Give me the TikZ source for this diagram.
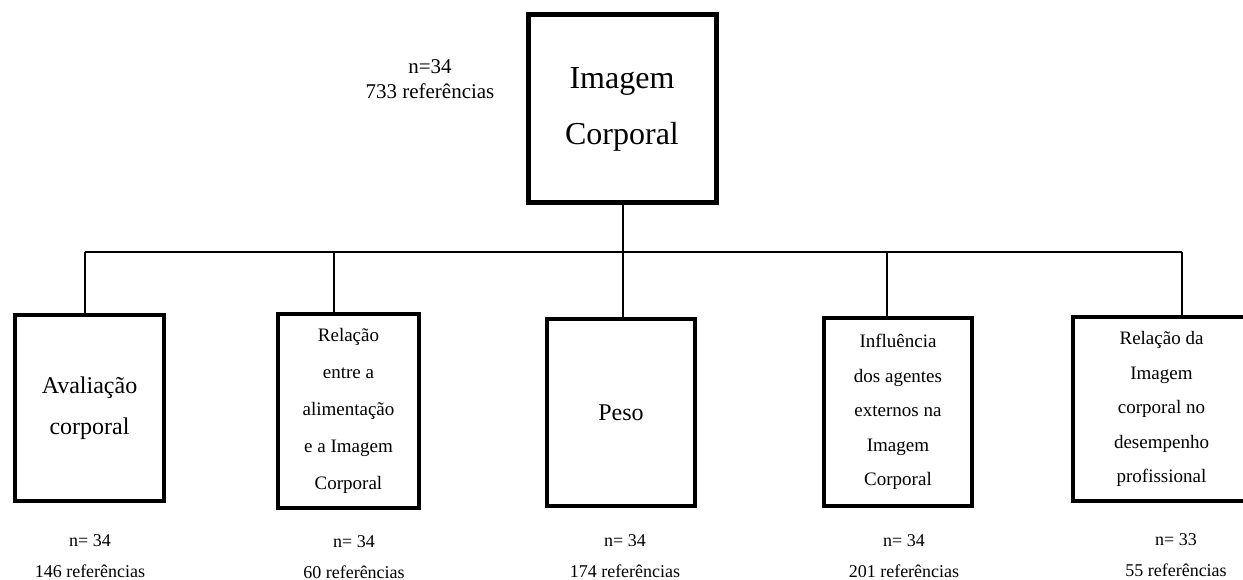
\documentclass[tikz,border=0pt]{standalone}
\usepackage{fontspec}
\setmainfont{Liberation Serif}
\begin{document}
\begin{tikzpicture}[x=1pt,y=-1pt,
  bigbox/.style={draw,line width=5pt,rectangle,inner sep=0pt,align=center},
  subbox/.style={draw,line width=4pt,rectangle,inner sep=0pt,align=center},
  lbl/.style={inner sep=0pt,align=center,font=\fontsize{18}{31}\selectfont},
  conn/.style={line width=1.4pt}]
\useasboundingbox (0,0) rectangle (1243,580);
\begin{scope}
\clip (0,0) rectangle (1243,580);
% top
\node[bigbox,minimum width=188pt,minimum height=188pt,font=\fontsize{32}{57}\selectfont] (top) at (622,109) {Imagem\\[-1pt]Corporal};
\node[inner sep=0pt,align=center,font=\fontsize{21}{25}\selectfont] (toplbl) at (430,79) {n=34\\733 referências};
% subboxes
\node[subbox,minimum width=149pt,minimum height=186pt,font=\fontsize{24}{41}\selectfont] (b1) at (89.5,408) {Avaliação\\corporal};
\node[subbox,minimum width=141pt,minimum height=194pt,font=\fontsize{19}{37.2}\selectfont] (b2) at (348.5,411) {Relação\\entre a\\alimentação\\e a Imagem\\Corporal};
\node[subbox,minimum width=148pt,minimum height=187pt,font=\fontsize{24}{41}\selectfont] (b3) at (621,412.5) {Peso};
\node[subbox,minimum width=148pt,minimum height=188pt,font=\fontsize{19}{34.6}\selectfont] (b4) at (898,412) {Influência\\dos agentes\\externos na\\Imagem\\Corporal};
\node[subbox,minimum width=177pt,minimum height=184pt,font=\fontsize{19}{34.5}\selectfont] (b5) at (1161.5,409) {Relação da\\Imagem\\corporal no\\desempenho\\profissional};
% labels
\node[lbl] (l1) at (90,556.5) {n= 34\\146 referências};
\node[lbl] (l2) at (354,557) {n= 34\\60 referências};
\node[lbl] (l3) at (625,556) {n= 34\\174 referências};
\node[lbl] (l4) at (904,556) {n= 34\\201 referências};
\node[lbl] (l5) at (1176,555.5) {n= 33\\55 referências};
% connectors
\coordinate (s1) at (85,252);
\coordinate (s2) at (334,252);
\coordinate (s3) at (623,252);
\coordinate (s4) at (887,252);
\coordinate (s5) at (1182,252);
\draw[conn] (s1) -- (s5);
\draw[conn] (top.south -| s3) -- (s3);
\draw[conn] (s1) -- (s1 |- b1.north);
\draw[conn] (s2) -- (s2 |- b2.north);
\draw[conn] (s3) -- (s3 |- b3.north);
\draw[conn] (s4) -- (s4 |- b4.north);
\draw[conn] (s5) -- (s5 |- b5.north);
\end{scope}
\end{tikzpicture}
\end{document}
